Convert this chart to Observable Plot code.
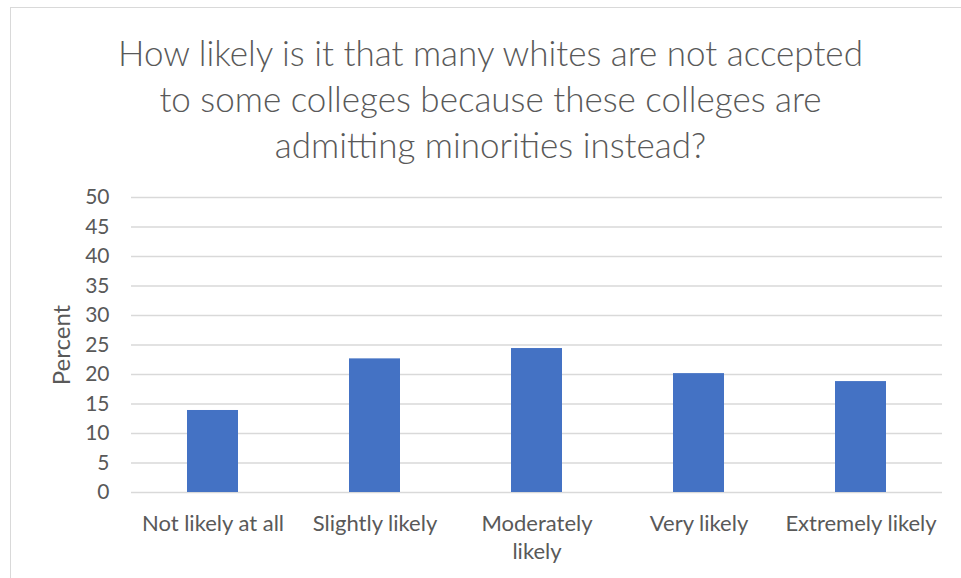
<!DOCTYPE html>
<html>
<head>
<meta charset="utf-8">
<script src="https://cdn.jsdelivr.net/npm/d3@7"></script>
<script src="https://cdn.jsdelivr.net/npm/@observablehq/plot@0.6"></script>
<style>
  html, body { margin: 0; padding: 0; background: #fff; }
  #wrap { position: relative; width: 961px; height: 578px; overflow: hidden; font-family: Lato, "Open Sans", sans-serif; }
  #frame { position: absolute; left: 10px; top: 7px; width: 980px; height: 600px; border: 1.5px solid #d9d9d9; box-sizing: border-box; }
  #title { position: absolute; left: 0; top: 29px; width: 981px; text-align: center; font-size: 35px; line-height: 46px; color: #595959; font-weight: 300; }
  #chart { position: absolute; left: 0; top: 0; }
</style>
</head>
<body>
<div id="wrap">
  <div id="frame"></div>
  <div id="title">How likely is it that many whites are not accepted<br>to some colleges because these colleges are<br>admitting minorities instead?</div>
  <div id="chart"></div>
</div>
<script>
const categories = ["Not likely at all", "Slightly likely", "Moderately likely", "Very likely", "Extremely likely"];
const percents = [13.9, 22.65, 24.4, 20.15, 18.8];
const yTicks = [0, 5, 10, 15, 20, 25, 30, 35, 40, 45, 50];
const tickLabels = ["Not likely at all", "Slightly likely", "Moderately\nlikely", "Very likely", "Extremely likely"];

const data = categories.map((c, i) => ({category: c, percent: percents[i]}));
const labelOf = new Map(categories.map((c, i) => [c, tickLabels[i]]));

const chart = Plot.plot({
  width: 961,
  height: 578,
  marginTop: 197,
  marginBottom: 86,
  marginLeft: 131,
  marginRight: 19,
  style: {fontFamily: "Lato, 'Open Sans', sans-serif", fontSize: "22px", color: "#595959", background: "transparent"},
  x: {domain: categories, paddingInner: 0.685, paddingOuter: 0.3425},
  y: {domain: [0, 50]},
  marks: [
    Plot.gridY(yTicks, {stroke: "#d9d9d9", strokeOpacity: 1, strokeWidth: 1.5}),
    Plot.barY(data, {x: "category", y: "percent", fill: "#4472c4"}),
    Plot.axisY(yTicks, {tickSize: 0, tickPadding: 22, fill: "#595959", fontSize: 21, label: null}),
    Plot.axisY({label: "Percent", labelAnchor: "center", labelArrow: "none", labelOffset: 79, fontSize: 24, tickSize: 0, tickFormat: () => "", fill: "#595959"}),
    Plot.axisX({tickSize: 0, tickPadding: 19, fill: "#595959", tickFormat: d => labelOf.get(d), lineHeight: 1.27, label: null, fontSize: 22})
  ]
});
document.getElementById("chart").appendChild(chart);
</script>
</body>
</html>
